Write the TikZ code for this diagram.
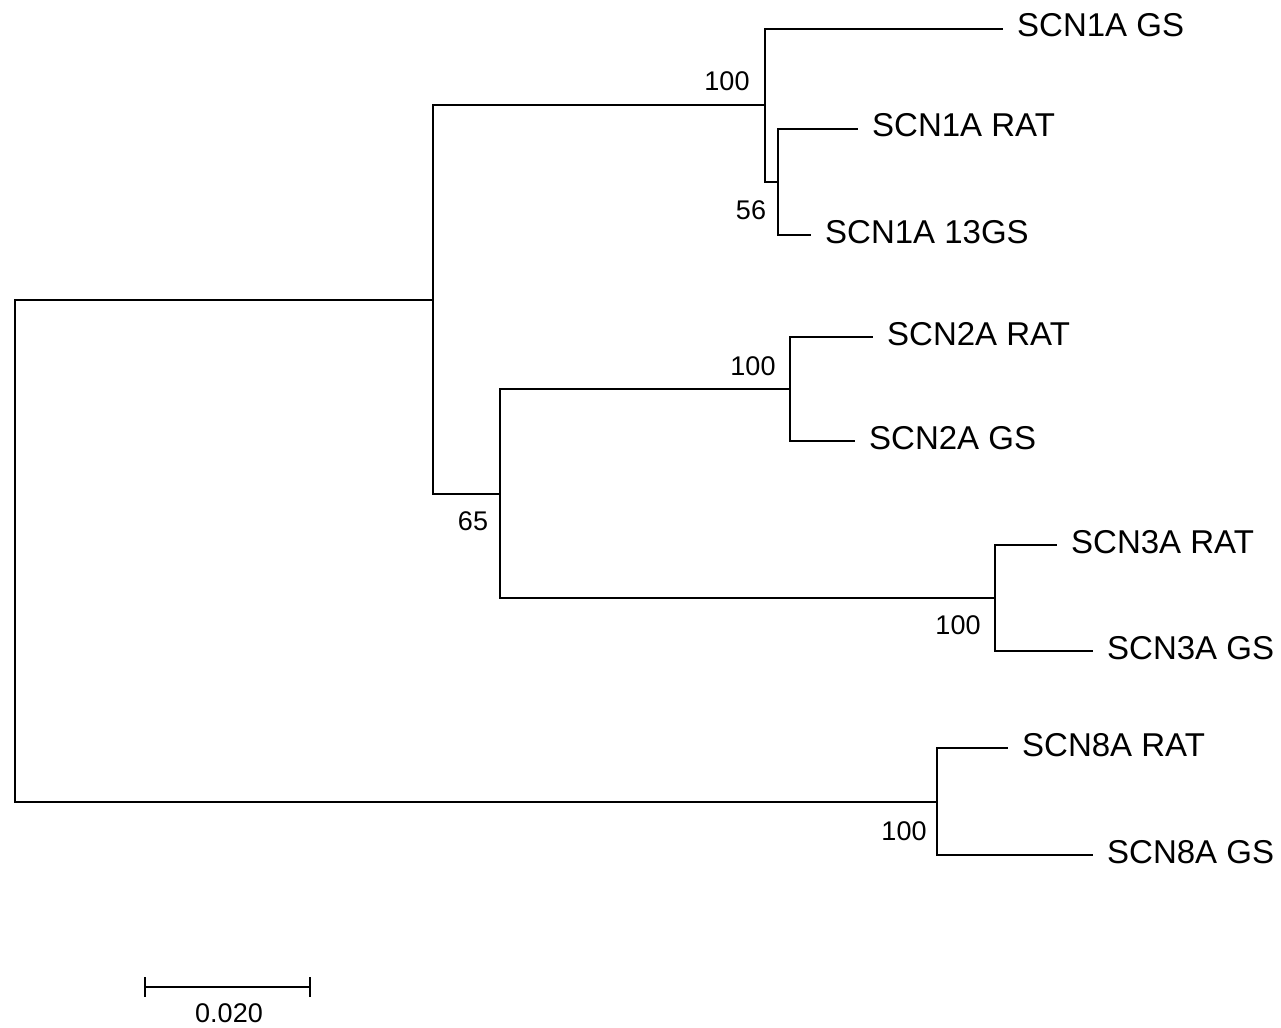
\documentclass[tikz,border=0pt]{standalone}
\usepackage{fontspec}
\setmainfont{Liberation Sans}
\begin{document}
\begin{tikzpicture}[x=1pt,y=-1pt,
  branch/.style={line width=2pt, draw=black},
  leaf/.style={anchor=west, inner xsep=14pt, inner ysep=0pt,
    font=\fontsize{33}{36}\selectfont, text height=24pt, text depth=8pt},
  boot/.style={font=\fontsize{27}{30}\selectfont, inner sep=0pt}]
\useasboundingbox (0,0) rectangle (1281,1027);
\fill[white] (0,0) rectangle (1281,1027);
% internal nodes
\coordinate (root) at (15,550.5);
\coordinate (nA) at (433,300);
\coordinate (nB) at (765,105.5);
\coordinate (nC) at (778,182);
\coordinate (nD) at (500,493.5);
\coordinate (nE) at (790,389);
\coordinate (nF) at (995,598);
\coordinate (nG) at (937,801.5);
% leaves
\node[leaf] (l1) at (1003,29) {SCN1A GS};
\node[leaf] (l2) at (858,129) {SCN1A RAT};
\node[leaf] (l3) at (811,235) {SCN1A 13GS};
\node[leaf] (l4) at (873,337) {SCN2A RAT};
\node[leaf] (l5) at (855,441) {SCN2A GS};
\node[leaf] (l6) at (1057,545) {SCN3A RAT};
\node[leaf] (l7) at (1093,651) {SCN3A GS};
\node[leaf] (l8) at (1008,748) {SCN8A RAT};
\node[leaf] (l9) at (1093,855) {SCN8A GS};
% branches
\draw[branch] (root) |- (nA);
\draw[branch] (root) |- (nG);
\draw[branch] (nA) |- (nB);
\draw[branch] (nA) |- (nD);
\draw[branch] (nB) |- (l1.west);
\draw[branch] (nB) |- (nC);
\draw[branch] (nC) |- (l2.west);
\draw[branch] (nC) |- (l3.west);
\draw[branch] (nD) |- (nE);
\draw[branch] (nD) |- (nF);
\draw[branch] (nE) |- (l4.west);
\draw[branch] (nE) |- (l5.west);
\draw[branch] (nF) |- (l6.west);
\draw[branch] (nF) |- (l7.west);
\draw[branch] (nG) |- (l8.west);
\draw[branch] (nG) |- (l9.west);
% bootstrap values
\node[boot] (bB) at (727,81) {100};
\node[boot] (bC) at (751,210) {56};
\node[boot] (bE) at (753,366) {100};
\node[boot] (bD) at (473,521) {65};
\node[boot] (bF) at (958,625) {100};
\node[boot] (bG) at (904,831) {100};
% scale bar
\coordinate (sbL) at (145,987);
\coordinate (sbR) at (310,987);
\draw[branch] (sbL) -- (sbR);
\draw[branch] (sbL) ++(0,-10) -- ++(0,20);
\draw[branch] (sbR) ++(0,-10) -- ++(0,20);
\node[boot] (sbT) at (229,1013) {0.020};
\end{tikzpicture}
\end{document}
